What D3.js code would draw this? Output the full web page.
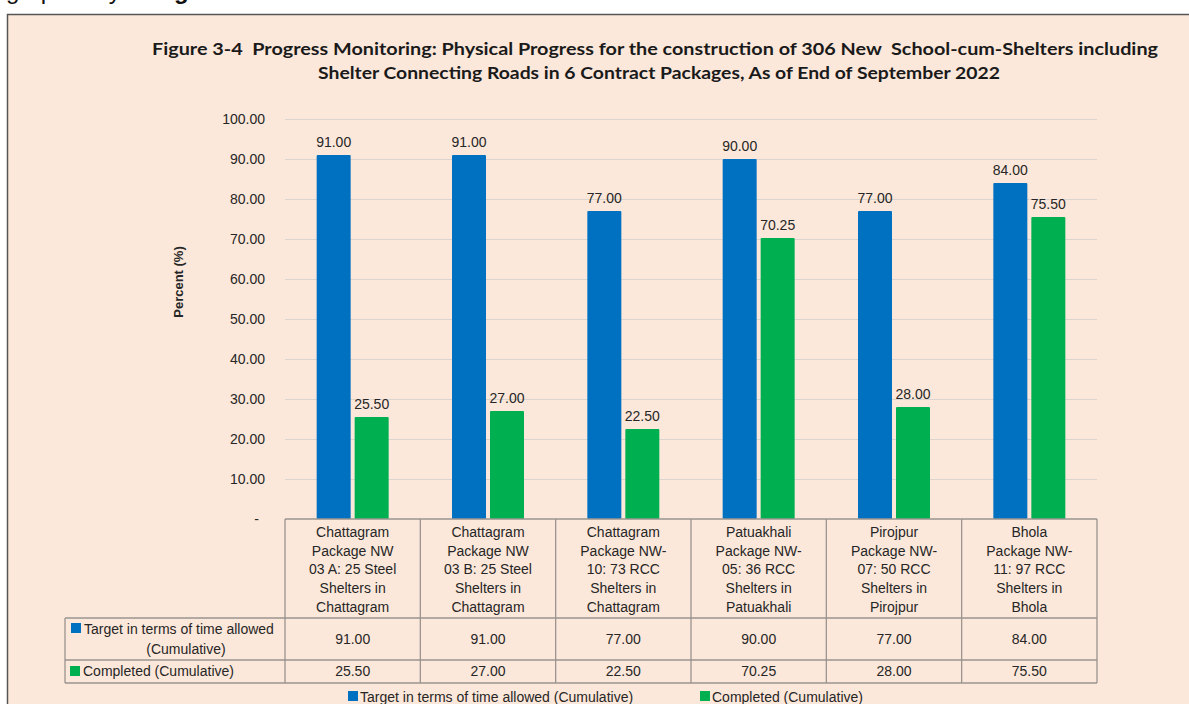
<!DOCTYPE html>
<html>
<head>
<meta charset="utf-8">
<script src="https://cdn.jsdelivr.net/npm/d3@7"></script>
<style>
  body { margin: 0; background: #fff; }
  svg { display: block; font-family: "Liberation Sans", Arial, sans-serif; }
  .title { white-space: pre; }
</style>
</head>
<body>
<div id="graph"></div>
<script>
// chart data
const categories = [
    ["Chattagram", "Package NW", "03 A: 25 Steel", "Shelters in", "Chattagram"],
    ["Chattagram", "Package NW", "03 B: 25 Steel", "Shelters in", "Chattagram"],
    ["Chattagram", "Package NW-", "10: 73 RCC", "Shelters in", "Chattagram"],
    ["Patuakhali", "Package NW-", "05: 36 RCC", "Shelters in", "Patuakhali"],
    ["Pirojpur", "Package NW-", "07: 50 RCC", "Shelters in", "Pirojpur"],
    ["Bhola", "Package NW-", "11: 97 RCC", "Shelters in", "Bhola"]
];
const target = [91.00, 91.00, 77.00, 90.00, 77.00, 84.00];
const completed = [25.50, 27.00, 22.50, 70.25, 28.00, 75.50];
const seriesNames = ["Target in terms of time allowed (Cumulative)", "Completed (Cumulative)"];
const rowHeaderLines = [["Target in terms of time allowed", "(Cumulative)"], ["Completed (Cumulative)"]];
const yTicks = [0, 10, 20, 30, 40, 50, 60, 70, 80, 90, 100];
const titleLines = [
    "Figure 3-4  Progress Monitoring: Physical Progress for the construction of 306 New  School-cum-Shelters including",
    "Shelter Connecting Roads in 6 Contract Packages, As of End of September 2022"
];

const width = 1189, height = 704;
const colors = ["#0070c0", "#00b050"];
const textColor = "#262626";
const plot = {left: 285, right: 1097, top: 119, bottom: 519};
const tableRows = {catBottom: 618, row1Bottom: 660, row2Bottom: 683, headerLeft: 65};

const svg = d3.select("#graph")
    .append("svg")
    .attr("width", width)
    .attr("height", height);

// text of the page above the frame, cut by the top edge
const topText = svg.append("text")
    .attr("x", 6).attr("y", -1)
    .attr("font-size", 24)
    .attr("fill", "#111");
topText.append("tspan").text("graphically in ");
topText.append("tspan").attr("font-weight", "bold").text("Figure 3-4");

// frame
svg.append("rect")
    .attr("x", 7.5).attr("y", 14.5)
    .attr("width", width + 20).attr("height", height + 20)
    .attr("fill", "#fce8da")
    .attr("stroke", "#555")
    .attr("stroke-width", 1.5);

// title
svg.selectAll(".title")
    .data(titleLines)
    .enter().append("text")
    .attr("class", "title")
    .attr("x", (d, i) => i === 0 ? 655 : 659)
    .attr("y", (d, i) => 55 + i * 24)
    .attr("text-anchor", "middle")
    .attr("font-family", "Lato, 'Open Sans', sans-serif")
    .attr("font-weight", "bold")
    .attr("font-size", 17.5)
    .attr("fill", "#1a1a1a")
    .attr("textLength", (d, i) => i === 0 ? 1006 : 682)
    .attr("lengthAdjust", "spacingAndGlyphs")
    .text(d => d);

const x = d3.scaleBand()
    .domain(d3.range(categories.length))
    .range([plot.left, plot.right])
    .padding(0);
const groupWidth = 72;
const xs = d3.scaleBand()
    .domain([0, 1])
    .range([0, groupWidth])
    .paddingInner(4 / 38);
const y = d3.scaleLinear()
    .domain([0, 100])
    .range([plot.bottom, plot.top]);

// gridlines
svg.append("g")
    .selectAll("line")
    .data(yTicks.filter(d => d > 0))
    .enter().append("line")
    .attr("x1", plot.left).attr("x2", plot.right)
    .attr("y1", d => Math.round(y(d)) + 0.5)
    .attr("y2", d => Math.round(y(d)) + 0.5)
    .attr("stroke", "#dcd4ce")
    .attr("stroke-width", 1.2);

// y axis
const yAxis = svg.append("g")
    .attr("transform", "translate(265,0)")
    .call(d3.axisLeft(y).tickValues(yTicks).tickSize(0).tickPadding(0)
        .tickFormat(d => d === 0 ? "-" : d3.format(".2f")(d)));
yAxis.select(".domain").remove();
yAxis.selectAll("text")
    .attr("font-family", "'Liberation Sans', Arial, sans-serif")
    .attr("font-size", 14)
    .attr("fill", textColor)
    .attr("dy", "0.35em")
    .attr("x", d => d === 0 ? -6 : 0);

svg.append("text")
    .attr("transform", "translate(183,282) rotate(-90)")
    .attr("text-anchor", "middle")
    .attr("font-size", 13)
    .attr("font-weight", "bold")
    .attr("fill", textColor)
    .text("Percent (%)");

// bars + value labels
const series = [target, completed];
series.forEach(function (vals, s) {
    svg.append("g")
        .selectAll("rect")
        .data(vals)
        .enter().append("rect")
        .attr("x", (d, i) => x(i) + (x.bandwidth() - groupWidth) / 2 + xs(s))
        .attr("width", xs.bandwidth())
        .attr("y", d => y(d))
        .attr("height", d => y(0) - y(d))
        .attr("rx", 1)
        .attr("fill", colors[s]);

    svg.append("g")
        .selectAll("text")
        .data(vals)
        .enter().append("text")
        .attr("x", (d, i) => x(i) + (x.bandwidth() - groupWidth) / 2 + xs(s) + xs.bandwidth() / 2)
        .attr("y", d => y(d) - 8)
        .attr("text-anchor", "middle")
        .attr("font-size", 14)
        .attr("fill", textColor)
        .text(d => d3.format(".2f")(d));
});

// data table
const table = svg.append("g")
    .attr("stroke", "#9a948f")
    .attr("stroke-width", 1.3);
table.append("line")
    .attr("x1", plot.left).attr("x2", plot.right)
    .attr("y1", plot.bottom).attr("y2", plot.bottom);
[tableRows.catBottom, tableRows.row1Bottom, tableRows.row2Bottom].forEach(function (yy) {
    table.append("line")
        .attr("x1", tableRows.headerLeft).attr("x2", plot.right)
        .attr("y1", yy).attr("y2", yy);
});
table.selectAll(".vline")
    .data(d3.range(categories.length + 1))
    .enter().append("line")
    .attr("class", "vline")
    .attr("x1", d => d < categories.length ? x(d) : plot.right)
    .attr("x2", d => d < categories.length ? x(d) : plot.right)
    .attr("y1", plot.bottom).attr("y2", tableRows.row2Bottom);
table.append("line")
    .attr("x1", tableRows.headerLeft).attr("x2", tableRows.headerLeft)
    .attr("y1", tableRows.catBottom).attr("y2", tableRows.row2Bottom);

// category labels
categories.forEach(function (lines, i) {
    svg.append("text")
        .attr("text-anchor", "middle")
        .attr("font-size", 14)
        .attr("fill", textColor)
        .selectAll("tspan")
        .data(lines)
        .enter().append("tspan")
        .attr("x", x(i) + x.bandwidth() / 2)
        .attr("y", (d, j) => 537 + j * 18.7)
        .text(d => d);
});

// table values
series.forEach(function (vals, s) {
    svg.append("g")
        .selectAll("text")
        .data(vals)
        .enter().append("text")
        .attr("x", (d, i) => x(i) + x.bandwidth() / 2)
        .attr("y", s === 0 ? 644 : 676)
        .attr("text-anchor", "middle")
        .attr("font-size", 14)
        .attr("fill", textColor)
        .text(d => d3.format(".2f")(d));
});

// row headers
svg.append("rect")
    .attr("x", 71).attr("y", 623).attr("width", 10).attr("height", 10)
    .attr("fill", colors[0]);
svg.append("text")
    .attr("font-size", 14)
    .attr("fill", textColor)
    .selectAll("tspan")
    .data(rowHeaderLines[0])
    .enter().append("tspan")
    .attr("x", (d, j) => j === 0 ? 84 : 186)
    .attr("text-anchor", (d, j) => j === 0 ? "start" : "middle")
    .attr("y", (d, j) => 634 + j * 20)
    .text(d => d);
svg.append("rect")
    .attr("x", 70).attr("y", 666).attr("width", 10).attr("height", 10)
    .attr("fill", colors[1]);
svg.append("text")
    .attr("x", 83).attr("y", 676)
    .attr("font-size", 14)
    .attr("fill", textColor)
    .text(rowHeaderLines[1][0]);

// legend
const legendX = [348, 700];
const legend = svg.append("g")
    .selectAll("g")
    .data(seriesNames)
    .enter().append("g")
    .attr("transform", (d, i) => "translate(" + legendX[i] + ",0)");
legend.append("rect")
    .attr("x", 0).attr("y", 691)
    .attr("width", 10).attr("height", 10)
    .attr("fill", (d, i) => colors[i]);
legend.append("text")
    .attr("x", 12).attr("y", 702)
    .attr("font-size", 14)
    .attr("fill", textColor)
    .text(d => d);
</script>
</body>
</html>
